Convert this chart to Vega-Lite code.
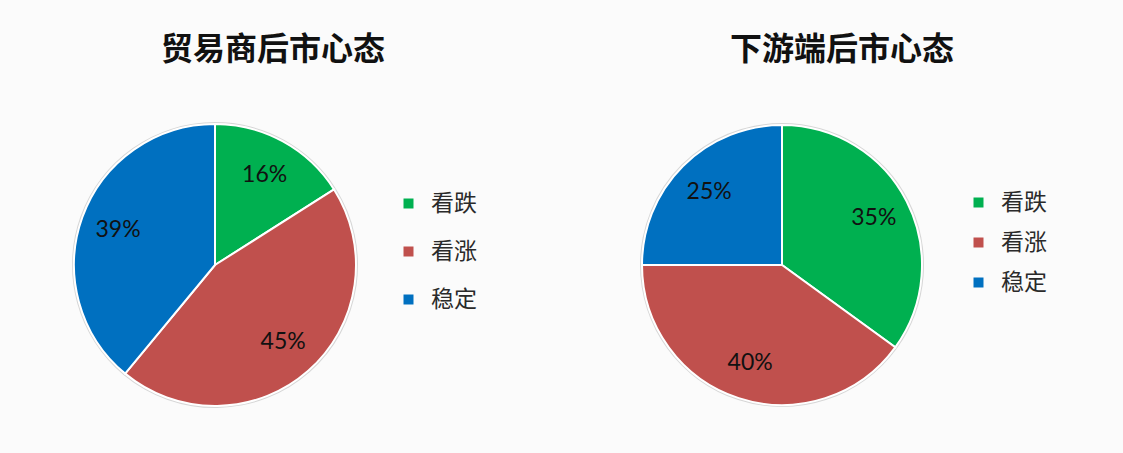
{
  "$schema": "https://vega.github.io/schema/vega-lite/v6.json",
  "background": "#fbfbfb",
  "padding": {"left": 65, "top": 34, "right": 78, "bottom": 38},
  "bounds": "flush",
  "spacing": 267,
  "datasets": {
    "trader": [
      {"category": "看跌", "value": 16, "idx": 1, "label": "16%"},
      {"category": "看涨", "value": 45, "idx": 2, "label": "45%"},
      {"category": "稳定", "value": 39, "idx": 3, "label": "39%"}
    ],
    "downstream": [
      {"category": "看跌", "value": 35, "idx": 1, "label": "35%"},
      {"category": "看涨", "value": 40, "idx": 2, "label": "40%"},
      {"category": "稳定", "value": 25, "idx": 3, "label": "25%"}
    ]
  },
  "hconcat": [
    {
      "width": 300,
      "height": 300,
      "title": {"text": "贸易商后市心态", "dx": 58, "offset": 48},
      "data": {"name": "trader"},
      "encoding": {
        "theta": {"field": "value", "type": "quantitative", "stack": true},
        "order": {"field": "idx", "type": "quantitative"}
      },
      "layer": [
        {"mark": {"type": "arc", "outerRadius": 143, "fill": "#d6d6d6"}},
        {
          "mark": {"type": "arc", "outerRadius": 141, "stroke": "white", "strokeWidth": 2},
          "encoding": {
            "color": {
              "field": "category", "type": "nominal",
              "scale": {"domain": ["看跌", "看涨", "稳定"], "range": ["#00B050", "#C0504D", "#0070C0"]},
              "legend": {"orient": "none", "legendX": 332, "legendY": 77, "rowPadding": 24}
            }
          }
        },
        {
          "mark": {"type": "text", "radius": 103, "fontSize": 23, "font": "Lato", "color": "#111"},
          "encoding": {"text": {"field": "label", "type": "nominal"}}
        }
      ]
    },
    {
      "width": 300,
      "height": 300,
      "title": {"text": "下游端后市心态", "dx": 60, "offset": 48},
      "data": {"name": "downstream"},
      "encoding": {
        "theta": {"field": "value", "type": "quantitative", "stack": true},
        "order": {"field": "idx", "type": "quantitative"}
      },
      "layer": [
        {"mark": {"type": "arc", "outerRadius": 142, "fill": "#d6d6d6"}},
        {
          "mark": {"type": "arc", "outerRadius": 140, "stroke": "white", "strokeWidth": 2},
          "encoding": {
            "color": {
              "field": "category", "type": "nominal",
              "scale": {"domain": ["看跌", "看涨", "稳定"], "range": ["#00B050", "#C0504D", "#0070C0"]},
              "legend": {"orient": "none", "legendX": 335, "legendY": 76, "rowPadding": 16}
            }
          }
        },
        {
          "mark": {"type": "text", "radius": 103, "fontSize": 23, "font": "Lato", "color": "#111"},
          "encoding": {"text": {"field": "label", "type": "nominal"}}
        }
      ]
    }
  ],
  "resolve": {
    "scale": {"color": "independent", "theta": "independent"},
    "legend": {"color": "independent"}
  },
  "config": {
    "view": {"stroke": null},
    "title": {"fontSize": 32, "font": "Noto Sans CJK SC", "fontWeight": "bold", "color": "#111"},
    "legend": {
      "title": null,
      "symbolType": "square",
      "symbolSize": 100,
      "symbolStrokeWidth": 0,
      "labelFontSize": 23,
      "labelFont": "Noto Sans CJK SC",
      "labelColor": "#2a2a2a",
      "labelOffset": 11,
      "padding": 0
    }
  }
}
